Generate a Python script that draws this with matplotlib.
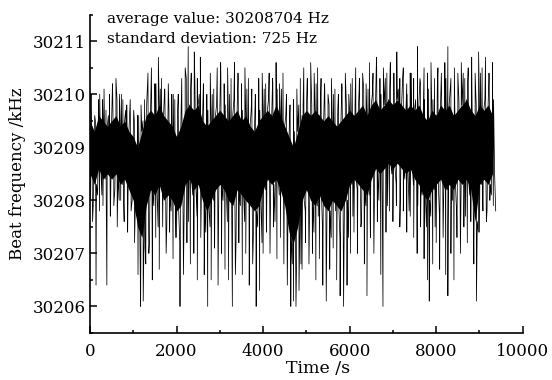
import numpy as np
import matplotlib
matplotlib.use('Agg')
import matplotlib.pyplot as plt

plt.rcParams['font.family'] = ['DejaVu Serif']

# core band of the trace, every 100 s
t_core = np.arange(0, 9400, 100)
core_hi = [30209.5, 30209.3, 30209.6, 30209.5, 30209.4, 30209.5, 30209.6, 30209.4, 30209.5, 30209.3,
           30209.2, 30209.0, 30209.3, 30209.6, 30209.7, 30209.6, 30209.8, 30209.6, 30209.5, 30209.4,
           30209.2, 30209.4, 30209.7, 30209.8, 30209.7, 30209.8, 30209.5, 30209.4, 30209.5, 30209.6,
           30209.7, 30209.6, 30209.5, 30209.6, 30209.7, 30209.5, 30209.6, 30209.4, 30209.3, 30209.5,
           30209.6, 30209.7, 30209.6, 30209.8, 30209.6, 30209.4, 30209.2, 30209.0, 30209.3, 30209.6,
           30209.7, 30209.6, 30209.7, 30209.6, 30209.5, 30209.6, 30209.5, 30209.4, 30209.5, 30209.6,
           30209.7, 30209.6, 30209.7, 30209.8, 30209.6, 30209.8, 30209.9, 30209.7, 30209.8, 30209.9,
           30209.8, 30209.9, 30209.8, 30209.7, 30209.8, 30209.7, 30209.8, 30209.6, 30209.5, 30209.7,
           30209.6, 30209.8, 30209.7, 30209.8, 30209.6, 30209.7, 30209.8, 30209.9, 30209.7, 30209.6,
           30209.8, 30209.7, 30209.8, 30209.6]
core_lo = [30208.5, 30208.3, 30208.6, 30208.4, 30208.5, 30208.4, 30208.5, 30208.3, 30208.4, 30208.2,
           30208.0, 30207.5, 30207.3, 30207.9, 30208.2, 30208.1, 30208.3, 30208.0, 30208.1, 30208.0,
           30207.8, 30207.9, 30208.3, 30208.4, 30208.2, 30208.3, 30208.0, 30207.8, 30208.0, 30208.2,
           30208.3, 30208.2, 30208.0, 30207.9, 30208.2, 30208.1, 30208.0, 30207.9, 30207.8, 30207.9,
           30208.2, 30208.4, 30208.3, 30208.4, 30208.2, 30207.9, 30207.4, 30207.2, 30207.5, 30208.0,
           30208.2, 30208.0, 30207.9, 30208.1, 30207.9, 30207.8, 30208.0, 30207.9, 30207.8, 30208.0,
           30208.3, 30208.4, 30208.3, 30208.2, 30208.1, 30208.4, 30208.6, 30208.5, 30208.6, 30208.7,
           30208.6, 30208.7, 30208.6, 30208.5, 30208.6, 30208.4, 30208.3, 30208.1, 30208.0, 30208.2,
           30208.3, 30208.4, 30208.2, 30208.3, 30208.2, 30208.4, 30208.3, 30208.4, 30208.2, 30207.6,
           30208.3, 30208.4, 30208.3, 30208.5]

# short fringe excursions just outside the core (at t+25 s above, t+75 s below)
up_fringe = [30210.0, 30209.5, 30210.0, 30210.1, 30209.6, 30210.0, 30209.9, 30210.0, 30209.7, 30209.8,
             30209.5, 30209.6, 30209.5, 30210.1, 30209.9, 30210.2, 30210.1, 30210.1, 30209.7, 30210.0,
             30209.7, 30209.6, 30210.3, 30210.1, 30210.2, 30210.0, 30210.1, 30209.7, 30210.0, 30209.8,
             30210.3, 30209.8, 30210.0, 30209.9, 30210.3, 30209.7, 30210.1, 30209.7, 30209.9, 30209.7,
             30210.1, 30209.9, 30210.2, 30210.1, 30210.1, 30209.6, 30209.8, 30209.3, 30209.8, 30209.8,
             30210.3, 30209.8, 30210.2, 30209.9, 30210.1, 30209.8, 30210.0, 30209.7, 30210.1, 30209.8,
             30210.2, 30209.8, 30210.3, 30210.1, 30210.1, 30210.0, 30210.5, 30210.0, 30210.3, 30210.1,
             30210.4, 30210.1, 30210.3, 30210.0, 30210.4, 30209.9, 30210.3, 30209.9, 30210.1, 30209.9,
             30210.1, 30210.0, 30210.3, 30210.1, 30210.1, 30209.9, 30210.4, 30210.2, 30210.2, 30209.8,
             30210.4, 30209.9, 30210.3, 30209.9]
dn_fringe = [30207.9, 30208.1, 30208.1, 30208.1, 30207.8, 30208.2, 30208.0, 30208.0, 30207.8, 30208.0,
             30207.7, 30206.9, 30207.1, 30207.2, 30207.9, 30207.5, 30208.1, 30207.5, 30207.8, 30207.3,
             30207.2, 30207.7, 30207.6, 30208.1, 30207.7, 30208.1, 30207.4, 30207.5, 30207.3, 30208.0,
             30208.0, 30207.6, 30207.8, 30207.2, 30207.9, 30207.6, 30207.8, 30207.3, 30207.5, 30207.2,
             30207.6, 30208.2, 30207.6, 30208.1, 30207.7, 30207.7, 30206.8, 30206.9, 30206.8, 30207.8,
             30207.9, 30207.4, 30207.7, 30207.4, 30207.6, 30207.3, 30207.8, 30207.3, 30207.5, 30207.3,
             30207.7, 30208.2, 30207.6, 30207.9, 30207.6, 30208.2, 30208.0, 30208.2, 30207.9, 30208.5,
             30208.3, 30208.1, 30208.4, 30207.8, 30208.3, 30207.9, 30208.1, 30207.5, 30207.7, 30207.5,
             30207.7, 30208.2, 30207.5, 30208.0, 30207.7, 30208.2, 30207.7, 30208.1, 30207.5, 30207.4,
             30208.0, 30207.8, 30208.1, 30207.8]

# upward spikes (time s, kHz)
t_up = [20, 110, 200, 290, 370, 450, 520, 600, 680, 760, 850, 930, 1010, 1100, 1180, 1260,
        1340, 1420, 1500, 1580, 1650, 1730, 1810, 1890, 1960, 2040, 2120, 2200, 2270, 2340,
        2410, 2480, 2550, 2620, 2700, 2780, 2860, 2940, 3020, 3100, 3180, 3260, 3340, 3420,
        3500, 3580, 3660, 3740, 3820, 3900, 3980, 4060, 4140, 4220, 4300, 4380, 4460, 4540,
        4620, 4700, 4780, 4860, 4940, 5020, 5100, 5180, 5260, 5340, 5420, 5500, 5580, 5660,
        5740, 5820, 5900, 5980, 6060, 6140, 6220, 6300, 6380, 6460, 6540, 6620, 6700, 6780,
        6860, 6940, 7020, 7090, 7160, 7240, 7320, 7400, 7480, 7570, 7640, 7720, 7800, 7880,
        7960, 8040, 8120, 8200, 8270, 8340, 8420, 8500, 8580, 8660, 8740, 8820, 8900, 8980,
        9060, 9140, 9220, 9300]
up = [30209.8, 30209.6, 30209.9, 30209.9, 30209.7, 30210.0, 30210.2, 30210.3, 30210.0, 30209.9,
      30209.8, 30209.9, 30209.7, 30209.6, 30209.8, 30209.9, 30210.4, 30210.5, 30210.2, 30210.7,
      30210.3, 30210.1, 30210.2, 30210.0, 30209.9, 30210.0, 30210.3, 30210.5, 30210.9, 30210.4,
      30210.8, 30210.3, 30210.7, 30210.2, 30210.0, 30210.4, 30210.1, 30210.5, 30210.6, 30210.2,
      30210.5, 30210.3, 30210.6, 30210.4, 30210.2, 30210.5, 30210.3, 30210.1, 30210.0, 30210.3,
      30210.4, 30210.2, 30210.4, 30210.3, 30210.6, 30210.2, 30210.4, 30210.0, 30209.8, 30209.9,
      30210.1, 30210.3, 30210.5, 30210.3, 30210.6, 30210.4, 30210.5, 30210.3, 30210.2, 30210.0,
      30210.3, 30210.1, 30210.0, 30210.2, 30210.4, 30210.0, 30210.3, 30210.5, 30210.1, 30210.4,
      30210.2, 30210.6, 30210.4, 30210.7, 30210.3, 30210.5, 30210.4, 30210.6, 30210.4, 30210.8,
      30210.3, 30210.5, 30210.2, 30210.4, 30210.3, 30210.9, 30210.2, 30210.5, 30210.4, 30210.6,
      30210.3, 30210.5, 30210.4, 30210.6, 30210.9, 30210.3, 30210.5, 30210.4, 30210.6, 30210.3,
      30210.5, 30210.7, 30210.4, 30210.8, 30210.5, 30210.7, 30210.4, 30210.6]

# downward spikes (time s, kHz)
t_dn = [10, 60, 140, 220, 300, 390, 470, 550, 630, 710, 790, 870, 950, 1030, 1110, 1170, 1230,
        1290, 1360, 1440, 1520, 1600, 1680, 1760, 1840, 1920, 2000, 2080, 2160, 2240, 2320, 2400,
        2480, 2560, 2640, 2720, 2800, 2880, 2960, 3040, 3120, 3200, 3290, 3360, 3440, 3520, 3600,
        3680, 3760, 3840, 3920, 4000, 4080, 4160, 4240, 4320, 4400, 4480, 4560, 4640, 4700, 4760,
        4830, 4900, 4980, 5060, 5140, 5220, 5300, 5380, 5460, 5540, 5620, 5700, 5780, 5860, 5940,
        6020, 6100, 6180, 6260, 6340, 6400, 6480, 6560, 6640, 6720, 6770, 6840, 6920, 7000, 7080,
        7160, 7240, 7320, 7400, 7480, 7560, 7640, 7720, 7800, 7840, 7920, 8000, 8080, 8160, 8220,
        8270, 8340, 8410, 8480, 8560, 8640, 8720, 8800, 8870, 8930, 9000, 9080, 9160, 9240, 9320]
dn = [30208.0, 30207.6, 30206.4, 30207.8, 30207.9, 30206.4, 30207.7, 30207.9, 30207.5, 30208.0,
      30207.6, 30207.4, 30207.8, 30207.2, 30206.6, 30206.0, 30206.1, 30206.8, 30207.0, 30206.5,
      30207.3, 30206.7, 30207.5, 30207.0, 30207.4, 30206.9, 30207.3, 30206.0, 30206.6, 30207.2,
      30206.8, 30207.0, 30206.5, 30207.3, 30206.6, 30206.0, 30206.5, 30207.1, 30206.4, 30207.0,
      30206.7, 30206.5, 30206.0, 30206.6, 30207.2, 30206.6, 30207.0, 30206.4, 30206.8, 30206.0,
      30206.3, 30207.0, 30207.4, 30207.0, 30207.5, 30206.9, 30207.3, 30206.8, 30206.4, 30206.0,
      30206.1, 30206.0, 30206.3, 30206.7, 30207.2, 30206.8, 30207.0, 30206.5, 30206.9, 30206.4,
      30206.1, 30206.7, 30207.1, 30206.5, 30206.2, 30206.0, 30206.4, 30207.0, 30207.4, 30207.0,
      30207.5, 30206.8, 30206.2, 30207.3, 30207.0, 30207.6, 30206.6, 30206.0, 30207.4, 30207.8,
      30207.6, 30207.9, 30207.5, 30207.8, 30207.4, 30207.7, 30207.3, 30207.0, 30207.5, 30206.9,
      30206.5, 30206.1, 30206.8, 30207.2, 30206.7, 30207.3, 30206.6, 30206.2, 30207.0, 30206.5,
      30207.3, 30207.0, 30207.5, 30207.2, 30207.6, 30206.8, 30206.1, 30207.4, 30207.8, 30207.6,
      30208.0, 30207.9]

avg_text = 'average value: 30208704 Hz'
std_text = 'standard deviation: 725 Hz'

# one trace through core edges, fringe and spikes, in time order
tt = np.concatenate([t_core, t_core + 25, t_core + 50, t_core + 75, t_up, t_dn])
yy = np.concatenate([core_hi, up_fringe, core_lo, dn_fringe, up, dn])
order = np.argsort(tt, kind='stable')
tt = tt[order]
yy = yy[order]

fig = plt.figure(figsize=(5.52, 3.80), dpi=100)
ax = fig.add_axes([0.163, 0.124, 0.784, 0.837])

ax.fill_between(t_core, core_lo, core_hi, color='black', lw=0)
ax.plot(tt, yy, color='black', lw=0.55)

ax.set_xlim(0, 10000)
ax.set_ylim(30205.5, 30211.5)
ax.set_xticks([0, 2000, 4000, 6000, 8000, 10000])
ax.set_xticks(np.arange(1000, 10000, 2000), minor=True)
ax.set_yticks([30206, 30207, 30208, 30209, 30210, 30211])
ax.set_yticks(np.arange(30205.5, 30211.6, 1.0), minor=True)
ax.yaxis.set_major_formatter(matplotlib.ticker.FormatStrFormatter('%d'))

for s in ['top', 'right']:
    ax.spines[s].set_visible(False)
for s in ['left', 'bottom']:
    ax.spines[s].set_linewidth(1.2)

ax.tick_params(which='major', direction='in', length=5, width=1.1, labelsize=12)
ax.tick_params(which='minor', direction='in', length=2.5, width=1.1)
ax.tick_params(axis='x', which='major', pad=7)
ax.tick_params(axis='y', which='major', pad=3)

ax.set_xlabel('Time /s', fontsize=12.5)
ax.xaxis.set_label_coords(0.527, -0.085)
ax.set_ylabel('Beat frequency /kHz', fontsize=12, labelpad=5)

ax.text(390, 30211.42, avg_text, fontsize=11, va='center', ha='left')
ax.text(390, 30211.04, std_text, fontsize=11, va='center', ha='left')

fig.savefig('out.png', dpi=100)
